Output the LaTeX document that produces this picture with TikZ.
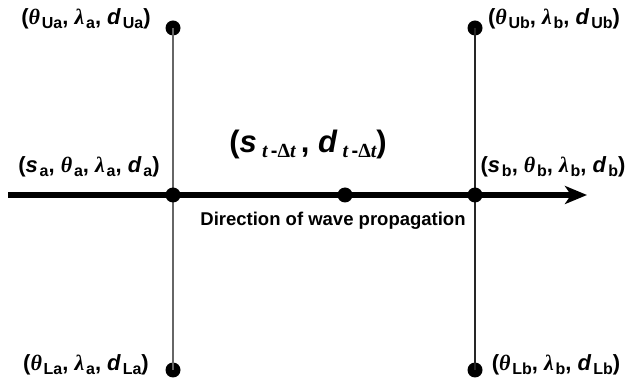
\documentclass[tikz,border=0pt]{standalone}
\usepackage{fontspec}
\setmainfont{Liberation Sans}
\newfontfamily\grk{Liberation Serif}
\usetikzlibrary{arrows.meta}
\newcommand{\sbs}[1]{\kern0.08em\raisebox{-0.35ex}{\fontsize{16}{18}\selectfont\bfseries #1}}
\newcommand{\tht}{{\grk\itshape\bfseries θ}}
\newcommand{\lmb}{{\grk\itshape\bfseries λ}}
\newcommand{\vd}{\textit{d}}
\newcommand{\vs}{\textit{s}}
\begin{document}
\begin{tikzpicture}[x=1pt,y=1pt,
  dot/.style={circle,fill=black,inner sep=0pt,minimum size=15pt},
  lbl/.style={font=\fontsize{22}{24}\selectfont\bfseries,inner sep=0pt},
  vline/.style={line width=1.3pt,draw=black!60}]
\useasboundingbox (0,0) rectangle (629,380);
\node[dot] (ua) at (173,352) {};
\node[dot] (la) at (173,10) {};
\node[dot] (ub) at (475,352) {};
\node[dot] (lb) at (475,10) {};
\coordinate (s) at (8,185);
\coordinate (e) at (587,185);
\draw[vline] (ua.center) -- (la.center);
\draw[vline,draw=black!85] (ub.center) -- (lb.center);
\draw[line width=6pt,-{Stealth[length=22pt,width=18pt,inset=6pt]}] (s) -- (e);
\node[dot] (ma) at (173,185) {};
\node[dot] (mc) at (345,185) {};
\node[dot] (mb) at (475,185) {};
\node[lbl] (tua) at (86,361) {(\tht\sbs{Ua}, \lmb\sbs{a}, \vd\sbs{Ua})};
\node[lbl] (tub) at (554,361) {(\tht\sbs{Ub}, \lmb\sbs{b}, \vd\sbs{Ub})};
\node[lbl] (tma) at (89,213) {(\vs\sbs{a}, \tht\sbs{a}, \lmb\sbs{a}, \vd\sbs{a})};
\node[lbl] (tmb) at (553,213) {(\vs\sbs{b}, \tht\sbs{b}, \lmb\sbs{b}, \vd\sbs{b})};
\node[lbl,font=\fontsize{31}{33}\selectfont\bfseries] (tmc) at (308,236) {(\vs\,\raisebox{-0.35ex}{\fontsize{20}{22}\selectfont{\grk\itshape\bfseries t}\,-{\grk Δ}{\grk\itshape\bfseries t}}\,, \vd\,\raisebox{-0.35ex}{\fontsize{20}{22}\selectfont{\grk\itshape\bfseries t}\,-{\grk Δ}{\grk\itshape\bfseries t}})};
\node[lbl,font=\fontsize{18.5}{20}\selectfont\bfseries] (dir) at (333,159) {Direction of wave propagation};
\node[lbl] (tla) at (86,15) {(\tht\sbs{La}, \lmb\sbs{a}, \vd\sbs{La})};
\node[lbl] (tlb) at (556,15) {(\tht\sbs{Lb}, \lmb\sbs{b}, \vd\sbs{Lb})};
\end{tikzpicture}
\end{document}
